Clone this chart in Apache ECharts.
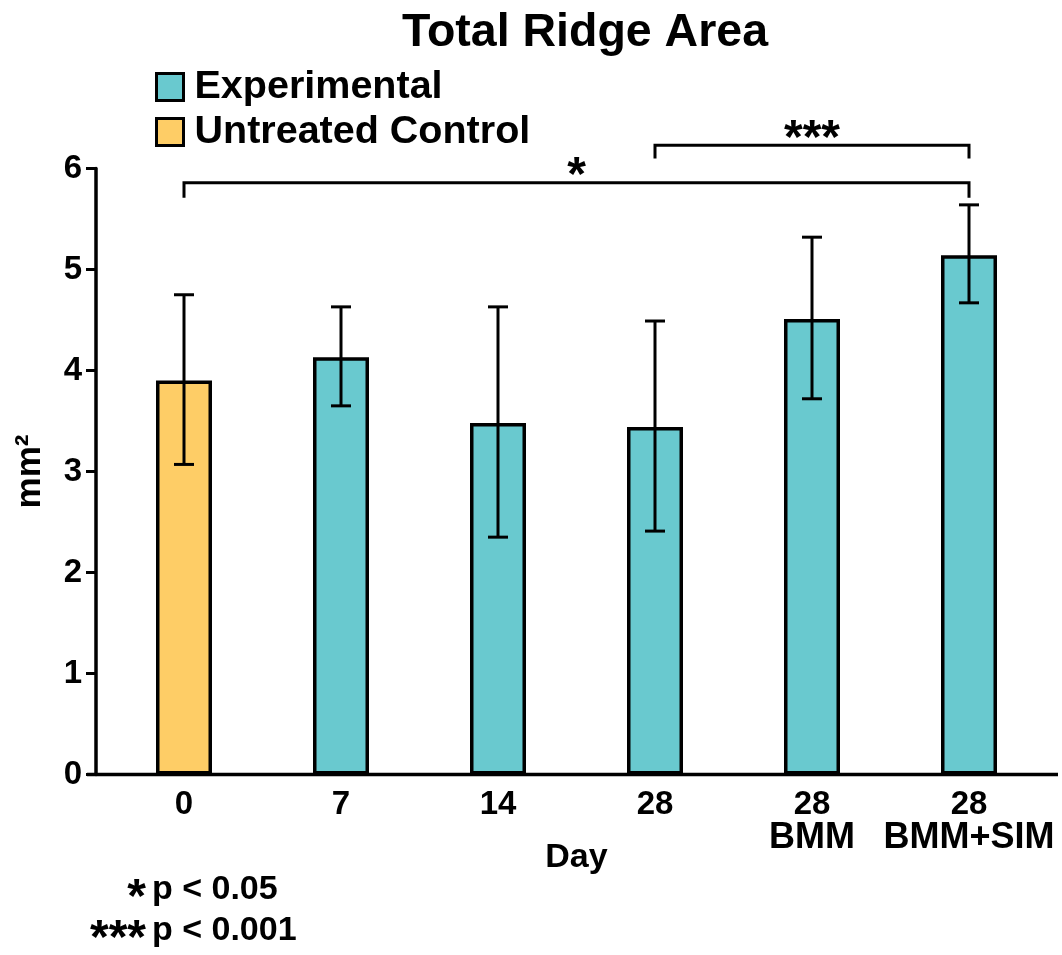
<!DOCTYPE html>
<html>
<head>
<meta charset="utf-8">
<script src="https://cdn.jsdelivr.net/npm/echarts@6/dist/echarts.min.js"></script>
<style>
html,body{margin:0;padding:0;background:#fff;}
#chart{width:1062px;height:955px;}
</style>
</head>
<body>
<div id="chart"></div>
<script>
// ---- data ----
var categories = ['0', '7', '14', '28', '28\nBMM', '28\nBMM+SIM'];
var experimental = [null, 4.13, 3.48, 3.44, 4.51, 5.14];
var control = [3.90, null, null, null, null, null];
var errLow = [3.07, 3.65, 2.35, 2.41, 3.72, 4.67];
var errHigh = [4.75, 4.63, 4.63, 4.49, 5.32, 5.64];
var yTicks = [0, 1, 2, 3, 4, 5, 6];
var bracketFrom = [0, 3];
var bracketTo = [5, 5];
var bracketY = [5.86, 6.23];
var bracketLegY = [5.71, 6.10];
var bracketLabels = ['*', '***'];
var footStars = ['*', '***'];
var footText = ['p < 0.05', 'p < 0.001'];

var FONT = '"Liberation Sans", Arial, Helvetica, sans-serif';
var TEAL = '#69C9CF';
var YELLOW = '#FECD66';

var errData = categories.map(function (c, i) { return [i, errLow[i], errHigh[i]]; });
var bracketData = bracketFrom.map(function (f, i) { return [f, bracketTo[i], bracketY[i], bracketLegY[i]]; });

var chart = echarts.init(document.getElementById('chart'), null, { renderer: 'canvas' });

var option = {
  backgroundColor: '#ffffff',
  animation: false,
  title: {
    text: 'Total Ridge Area',
    left: 580,
    top: 5,
    textAlign: 'center',
    textStyle: { fontFamily: FONT, fontWeight: 'bold', fontSize: 46.5, color: '#000' }
  },
  legend: {
    orient: 'vertical',
    left: 155,
    top: 67,
    padding: 0,
    itemWidth: 27,
    itemHeight: 27,
    itemGap: 5,
    icon: 'rect',
    data: ['Experimental', 'Untreated Control'],
    itemStyle: { borderColor: '#000', borderWidth: 3 },
    textStyle: { fontFamily: FONT, fontWeight: 'bold', fontSize: 39.5, color: '#000', padding: [4, 0, 0, 6] }
  },
  grid: { left: 105.5, top: 168.5, width: 942, height: 606, containLabel: false },
  xAxis: {
    type: 'category',
    data: categories,
    axisLine: { show: false },
    axisTick: { show: false },
    axisLabel: {
      interval: 0,
      margin: 14,
      formatter: function (v) {
        var parts = v.split('\n');
        return parts.length > 1 ? '{a|' + parts[0] + '}\n{b|' + parts[1] + '}' : '{a|' + parts[0] + '}';
      },
      rich: {
        a: { fontFamily: FONT, fontWeight: 'bold', fontSize: 33, color: '#000', lineHeight: 33 },
        b: { fontFamily: FONT, fontWeight: 'bold', fontSize: 36, color: '#000', lineHeight: 33 }
      }
    },
    name: 'Day',
    nameLocation: 'middle',
    nameGap: 66,
    nameMoveOverlap: false,
    nameTextStyle: { fontFamily: FONT, fontWeight: 'bold', fontSize: 34, color: '#000' }
  },
  yAxis: {
    type: 'value',
    min: yTicks[0],
    max: yTicks[yTicks.length - 1],
    interval: 1,
    offset: 9.5,
    axisLine: { show: true, lineStyle: { color: '#000', width: 3.5 } },
    axisTick: { show: true, length: 10, lineStyle: { color: '#000', width: 3 } },
    splitLine: { show: false },
    axisLabel: { fontFamily: FONT, fontWeight: 'bold', fontSize: 33, color: '#000', margin: 14 },
    name: 'mm²',
    nameLocation: 'middle',
    nameGap: 48,
    nameMoveOverlap: false,
    nameTextStyle: { fontFamily: FONT, fontWeight: 'bold', fontSize: 35, color: '#000' }
  },
  series: [
    {
      name: 'Experimental',
      type: 'bar',
      data: experimental,
      barWidth: 56,
      barGap: '-100%',
      itemStyle: { color: TEAL, borderColor: '#000', borderWidth: 3.5 }
    },
    {
      name: 'Untreated Control',
      type: 'bar',
      data: control,
      barWidth: 56,
      barGap: '-100%',
      itemStyle: { color: YELLOW, borderColor: '#000', borderWidth: 3.5 }
    },
    {
      name: 'err',
      type: 'custom',
      data: errData,
      z: 10,
      clip: false,
      renderItem: function (params, api) {
        var i = api.value(0);
        var lo = api.coord([i, api.value(1)]);
        var hi = api.coord([i, api.value(2)]);
        var cw = 10;
        var st = { stroke: '#000', lineWidth: 3, fill: null };
        return {
          type: 'group',
          children: [
            { type: 'line', shape: { x1: lo[0], y1: lo[1], x2: hi[0], y2: hi[1] }, style: st },
            { type: 'line', shape: { x1: hi[0] - cw, y1: hi[1], x2: hi[0] + cw, y2: hi[1] }, style: st },
            { type: 'line', shape: { x1: lo[0] - cw, y1: lo[1], x2: lo[0] + cw, y2: lo[1] }, style: st }
          ]
        };
      }
    },
    {
      name: 'sig',
      type: 'custom',
      data: bracketData,
      z: 10,
      clip: false,
      renderItem: function (params, api) {
        var a = api.coord([api.value(0), api.value(2)]);
        var b = api.coord([api.value(1), api.value(2)]);
        var aL = api.coord([api.value(0), api.value(3)]);
        var bL = api.coord([api.value(1), api.value(3)]);
        return {
          type: 'group',
          children: [
            { type: 'polyline', shape: { points: [[aL[0], aL[1]], [a[0], a[1]], [b[0], b[1]], [bL[0], bL[1]]] },
              style: { stroke: '#000', lineWidth: 3, fill: null } },
            { type: 'text', style: { text: bracketLabels[params.dataIndex], x: (a[0] + b[0]) / 2, y: a[1] - 6,
              align: 'center', verticalAlign: 'middle', font: 'bold 48px ' + FONT, fill: '#000' } }
          ]
        };
      }
    }
  ]
};
chart.setOption(option);

// x axis baseline (extends slightly past the y axis, as in the original)
var p0 = chart.convertToPixel({ gridIndex: 0 }, [0, 0]);
var gridRight = 105.5 + 942;
var graphics = [
  { type: 'line', z: 20, shape: { x1: 87, y1: p0[1], x2: gridRight + 10.5, y2: p0[1] }, style: { stroke: '#000', lineWidth: 3.5 } }
];
var footY = [890, 931];
footStars.forEach(function (s, i) {
  graphics.push({ type: 'text', style: { text: s, x: 146, y: footY[i] + 9, align: 'right', verticalAlign: 'middle', font: 'bold 48px ' + FONT, fill: '#000' } });
  graphics.push({ type: 'text', style: { text: footText[i], x: 152, y: footY[i], align: 'left', verticalAlign: 'middle', font: 'bold 34px ' + FONT, fill: '#000' } });
});
chart.setOption({ graphic: graphics });
</script>
</body>
</html>
